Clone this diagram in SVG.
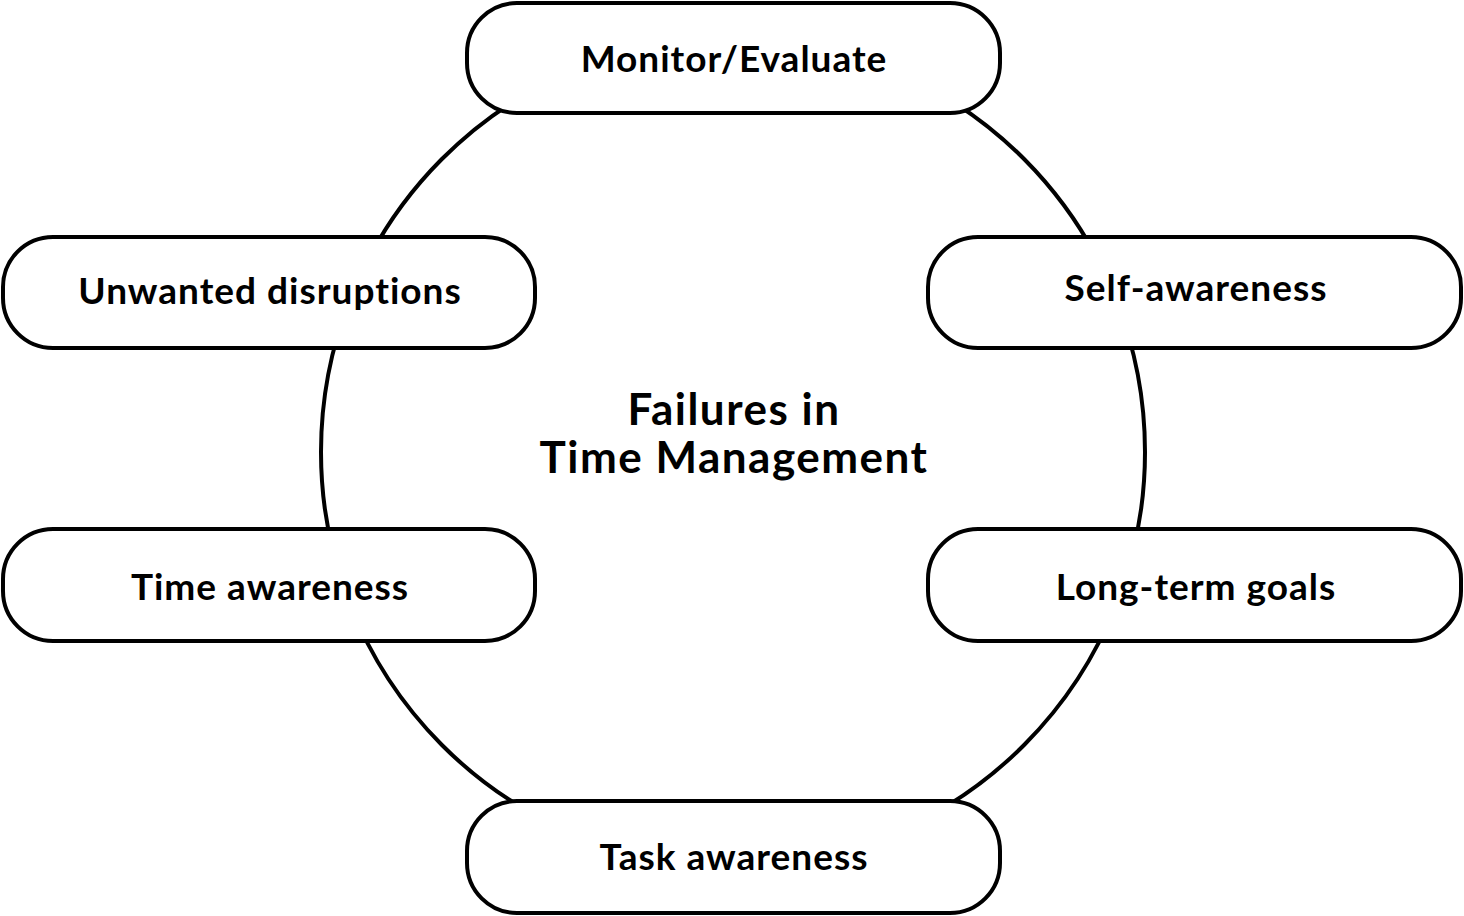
<svg xmlns="http://www.w3.org/2000/svg" width="1464" height="916" viewBox="0 0 1464 916">
<style>
.box{fill:#fff;stroke:#000;stroke-width:4}
.ring{fill:none;stroke:#000;stroke-width:4}
.lbl{font-family:Lato,"Open Sans",sans-serif;font-weight:bold;font-size:37px;letter-spacing:1px;fill:#000;text-anchor:middle}
.ctr{font-family:Lato,"Open Sans",sans-serif;font-weight:bold;font-size:44px;letter-spacing:1.5px;fill:#000;text-anchor:middle}
</style>
<rect width="1464" height="916" fill="#fff"/>
<g id="connectors">
<ellipse class="ring" cx="733" cy="452" rx="412" ry="414"/>
</g>
<g id="center">
<text class="ctr" x="734" y="425">Failures in</text>
<text class="ctr" x="734" y="473">Time Management</text>
</g>
<g id="monitor">
<rect class="box" x="467" y="3" width="533" height="110" rx="50"/>
<text class="lbl" x="734" y="72">Monitor/Evaluate</text>
</g>
<g id="unwanted">
<rect class="box" x="3" y="237" width="532" height="111" rx="50"/>
<text class="lbl" x="270" y="304">Unwanted disruptions</text>
</g>
<g id="self">
<rect class="box" x="928" y="237" width="533" height="111" rx="50"/>
<text class="lbl" x="1196" y="301">Self-awareness</text>
</g>
<g id="time">
<rect class="box" x="3" y="529" width="532" height="112" rx="50"/>
<text class="lbl" x="270" y="600">Time awareness</text>
</g>
<g id="longterm">
<rect class="box" x="928" y="529" width="533" height="112" rx="50"/>
<text class="lbl" x="1196" y="600">Long-term goals</text>
</g>
<g id="task">
<rect class="box" x="467" y="801" width="533" height="112" rx="50"/>
<text class="lbl" x="734" y="870">Task awareness</text>
</g>
</svg>
